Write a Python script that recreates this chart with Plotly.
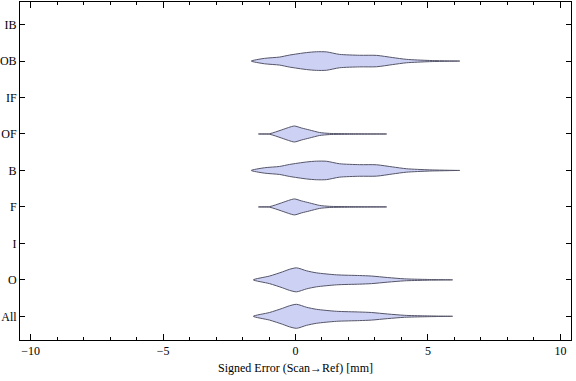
import plotly.graph_objects as go

# Categories bottom -> top
categories = ["All", "O", "I", "F", "B", "OF", "IF", "OB", "IB"]

# Density profiles: x positions (mm) and half-widths (category units)
wide_x  = [-1.67, -1.17, -0.60, -0.23, 0.42, 0.79, 1.17, 1.66, 2.42, 3.06, 3.67, 4.19, 5.06, 6.20]
wide_hw = [0.0, 0.074, 0.11, 0.164, 0.233, 0.255, 0.252, 0.184, 0.159, 0.156, 0.096, 0.047, 0.016, 0.0]

narrow_x  = [-1.40, -0.98, -0.53, -0.26, -0.04, 0.23, 0.53, 0.91, 1.28, 2.04, 3.44]
narrow_hw = [0.0, 0.008, 0.11, 0.178, 0.219, 0.164, 0.11, 0.041, 0.016, 0.008, 0.0]

peak_x  = [-1.59, -0.98, -0.49, -0.23, 0.04, 0.42, 0.79, 1.55, 2.42, 2.87, 3.48, 4.12, 4.88, 5.93]
peak_hw = [0.0, 0.104, 0.219, 0.288, 0.329, 0.247, 0.192, 0.137, 0.118, 0.104, 0.063, 0.027, 0.012, 0.0]

profiles = {
    "All": (peak_x, peak_hw),
    "O": (peak_x, peak_hw),
    "F": (narrow_x, narrow_hw),
    "B": (wide_x, wide_hw),
    "OF": (narrow_x, narrow_hw),
    "OB": (wide_x, wide_hw),
}

fig = go.Figure()
for name, (xs, hws) in profiles.items():
    c = categories.index(name) + 1
    px = list(xs) + list(xs[::-1])
    py = [c + h for h in hws] + [c - h for h in hws[::-1]]
    fig.add_trace(go.Scatter(
        x=px, y=py, mode="lines", fill="toself",
        fillcolor="rgb(205,209,244)",
        line=dict(color="rgb(85,85,105)", width=1, shape="spline", smoothing=0.7),
        hoverinfo="skip", showlegend=False,
    ))

font = dict(family="Liberation Serif, Times New Roman, serif", size=12, color="black")
fig.update_layout(
    width=576, height=381,
    margin=dict(l=20, r=5, t=2, b=41, autoexpand=False),
    plot_bgcolor="white", paper_bgcolor="white",
    font=font,
    showlegend=False,
)
fig.update_xaxes(
    automargin=False,
    range=[-10.4, 10.4],
    tickvals=[-10, -5, 0, 5, 10],
    ticks="inside", ticklen=6, tickcolor="black", tickwidth=1,
    minor=dict(dtick=1, ticks="inside", ticklen=3, tickcolor="black", tickwidth=1),
    showline=True, linecolor="black", linewidth=1, mirror="allticks",
    showgrid=False, zeroline=False,
    title=dict(text="Signed Error (Scan\u2192Ref) [mm]", standoff=6, font=font),
)
fig.update_yaxes(
    automargin=False,
    range=[0.35, 9.62],
    tickvals=list(range(1, len(categories) + 1)),
    ticktext=categories,
    ticks="inside", ticklen=5, tickcolor="black", tickwidth=1,
    showline=True, linecolor="black", linewidth=1, mirror="allticks",
    showgrid=False, zeroline=False,
)
fig.write_html(
    "out.html",
    config={"displayModeBar": False},
    post_script="document.body.style.margin='0';document.body.style.overflow='hidden';",
)
